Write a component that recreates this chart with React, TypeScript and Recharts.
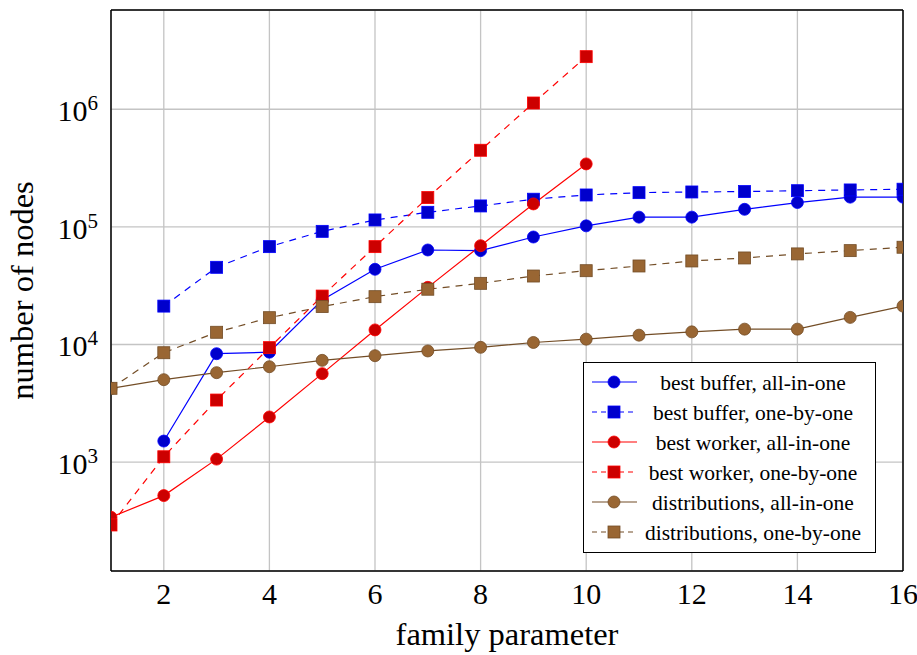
import React from 'react';
import { LineChart, Line, XAxis, YAxis, CartesianGrid, Legend } from 'recharts';

const FAMILY_PARAMS = [1, 2, 3, 4, 5, 6, 7, 8, 9, 10, 11, 12, 13, 14, 15, 16];
const X_TICKS = [2, 4, 6, 8, 10, 12, 14, 16];
const Y_TICKS = [1e3, 1e4, 1e5, 1e6];
const Y_TICK_EXPONENTS = ['3', '4', '5', '6'];
const Y_MINOR_TICKS = [
  200, 300, 400, 500, 600, 700, 800, 900,
  2000, 3000, 4000, 5000, 6000, 7000, 8000, 9000,
  20000, 30000, 40000, 50000, 60000, 70000, 80000, 90000,
  200000, 300000, 400000, 500000, 600000, 700000, 800000, 900000,
  2000000, 3000000, 4000000, 5000000, 6000000,
];
const Y_DOMAIN = [118.6, 6.98e6];

const bestBufferAllInOne = [null, 1510, 8350, 8600, 23900, 43600, 63600, 62800, 82000, 102000, 121000, 121000, 141000, 161000, 179000, 179000];
const bestBufferOneByOne = [null, 21200, 45300, 67900, 91600, 114500, 133000, 150600, 171800, 186700, 195400, 198000, 199600, 203000, 206000, 209000];
const bestWorkerAllInOne = [340, 519, 1060, 2420, 5650, 13300, 30600, 69200, 156700, 343000, null, null, null, null, null, null];
const bestWorkerOneByOne = [292, 1110, 3370, 9400, 25800, 67900, 177400, 448000, 1130000, 2800000, null, null, null, null, null, null];
const distributionsAllInOne = [4240, 5020, 5760, 6470, 7330, 8030, 8810, 9460, 10400, 11100, 12000, 12800, 13500, 13500, 17000, 21200];
const distributionsOneByOne = [4240, 8510, 12700, 16900, 21000, 25500, 29500, 33100, 38200, 42400, 46500, 51300, 54400, 58900, 62800, 67100];

const FONT = "'Liberation Serif', 'DejaVu Serif', serif";

type Series = {
  name: string;
  values: (number | null)[];
  stroke: string;
  fill: string;
  shape: 'circle' | 'square';
  dashed: boolean;
};

const SERIES: Series[] = [
  { name: 'best buffer, all-in-one', values: bestBufferAllInOne, stroke: '#0000ff', fill: '#0000cc', shape: 'circle', dashed: false },
  { name: 'best buffer, one-by-one', values: bestBufferOneByOne, stroke: '#0000ff', fill: '#0000cc', shape: 'square', dashed: true },
  { name: 'best worker, all-in-one', values: bestWorkerAllInOne, stroke: '#ff0000', fill: '#cc0000', shape: 'circle', dashed: false },
  { name: 'best worker, one-by-one', values: bestWorkerOneByOne, stroke: '#ff0000', fill: '#cc0000', shape: 'square', dashed: true },
  { name: 'distributions, all-in-one', values: distributionsAllInOne, stroke: '#734d26', fill: '#996633', shape: 'circle', dashed: false },
  { name: 'distributions, one-by-one', values: distributionsOneByOne, stroke: '#734d26', fill: '#996633', shape: 'square', dashed: true },
];

const toData = (values: (number | null)[]) =>
  FAMILY_PARAMS.map((x, i) => ({ x, y: values[i] })).filter((d) => d.y != null);

const Marker = ({ cx, cy, shape, fill, stroke, size }: any) =>
  shape === 'circle' ? (
    <circle cx={cx} cy={cy} r={size / 2} fill={fill} stroke={stroke} strokeWidth={0.8} />
  ) : (
    <rect x={cx - size / 2} y={cy - size / 2} width={size} height={size} fill={fill} stroke={stroke} strokeWidth={0.8} />
  );

const makeDot = (s: Series) => (props: any) => {
  const { cx, cy, index } = props;
  if (cx == null || cy == null) return <g key={`e-${index}`} />;
  return (
    <g key={`d-${index}`}>
      <Marker cx={cx} cy={cy} shape={s.shape} fill={s.fill} stroke={s.stroke} size={12} />
    </g>
  );
};

const XTick = (props: any) => {
  const { x, y, payload } = props;
  return (
    <text x={x} y={y + 25} textAnchor="middle" fontSize={30} fontFamily={FONT} style={{ fontFamily: FONT }} fill="#000">
      {payload.value}
    </text>
  );
};

const YTick = (props: any) => {
  const { x, y, payload } = props;
  const idx = Y_TICKS.indexOf(payload.value);
  return (
    <text x={x - 5} y={y + 12} textAnchor="end" fontFamily={FONT} style={{ fontFamily: FONT }} fill="#000">
      <tspan fontSize={30}>10</tspan>
      <tspan fontSize={21} dy={-11}>{Y_TICK_EXPONENTS[idx]}</tspan>
    </text>
  );
};

const XTitle = (props: any) => {
  const vb = props.viewBox || { x: 111, y: 571, width: 792, height: 84 };
  return (
    <text x={vb.x + vb.width / 2} y={vb.y + 74} textAnchor="middle" fontSize={32.5} fontFamily={FONT} style={{ fontFamily: FONT }} fill="#000">
      family parameter
    </text>
  );
};

const YTitle = (props: any) => {
  const vb = props.viewBox || { x: 0, y: 10, width: 111, height: 561 };
  const cx = vb.x + 33;
  const cy = vb.y + vb.height / 2;
  return (
    <text x={cx} y={cy} textAnchor="middle" fontSize={32.5} fontFamily={FONT} style={{ fontFamily: FONT }} fill="#000" transform={`rotate(-90, ${cx}, ${cy})`}>
      number of nodes
    </text>
  );
};

const LegendBox = () => (
  <div
    style={{
      position: 'relative',
      width: 293,
      height: 191,
      boxSizing: 'border-box',
      border: '1.3px solid #000',
      background: '#fff',
      fontFamily: 'Liberation Serif, serif',
    }}
  >
    <svg width={293} height={191} style={{ position: 'absolute', left: -1, top: -1, display: 'block' }}>
      {SERIES.map((s, i) => {
        const cy = 20 + 30 * i;
        return (
          <g key={s.name}>
            <line x1={9} x2={54} y1={cy} y2={cy} stroke={s.stroke} strokeWidth={1.2} strokeDasharray={s.dashed ? '5 4' : undefined} />
            <Marker cx={31} cy={cy} shape={s.shape} fill={s.fill} stroke={s.stroke} size={12} />
          </g>
        );
      })}
    </svg>
    {SERIES.map((s, i) => (
      <div
        key={s.name}
        style={{
          position: 'absolute',
          left: 52,
          width: 234,
          top: 5 + 30 * i,
          height: 30,
          lineHeight: '30px',
          textAlign: 'center',
          fontSize: 21.5,
          color: '#000',
          whiteSpace: 'nowrap',
          fontFamily: 'Liberation Serif, serif',
        }}
      >
        {s.name}
      </div>
    ))}
  </div>
);

export default function App() {
  return (
    <div style={{ position: 'absolute', left: 0, top: 0, width: 917, height: 655, background: '#fff', fontFamily: FONT }}>
      <LineChart width={917} height={655} margin={{ top: 10, right: 14, bottom: 0, left: 0 }} style={{ fontFamily: FONT }}>
        <CartesianGrid stroke="#c4c4c4" strokeWidth={1.3} />
        <XAxis
          type="number"
          dataKey="x"
          domain={[1, 16]}
          allowDataOverflow
          ticks={X_TICKS}
          interval={0}
          height={84}
          tickLine={false}
          axisLine={{ stroke: '#000', strokeWidth: 1.5 }}
          tick={<XTick />}
          label={(p: any) => <XTitle {...p} />}
        />
        <XAxis
          xAxisId="top"
          orientation="top"
          mirror
          type="number"
          domain={[1, 16]}
          allowDataOverflow
          ticks={X_TICKS}
          interval={0}
          tick={false}
          tickSize={6}
          tickLine={{ stroke: '#666' }}
          axisLine={{ stroke: '#000', strokeWidth: 1.5 }}
        />
        <XAxis
          xAxisId="bottomInner"
          orientation="bottom"
          mirror
          type="number"
          domain={[1, 16]}
          allowDataOverflow
          ticks={X_TICKS}
          interval={0}
          tick={false}
          tickSize={6}
          tickLine={{ stroke: '#666' }}
          axisLine={false}
        />
        <YAxis
          scale="log"
          type="number"
          domain={Y_DOMAIN}
          allowDataOverflow
          ticks={Y_TICKS}
          interval={0}
          width={111}
          tickLine={false}
          axisLine={{ stroke: '#000', strokeWidth: 1.5 }}
          tick={<YTick />}
          label={(p: any) => <YTitle {...p} />}
        />
        <YAxis
          yAxisId="minorL"
          orientation="left"
          mirror
          scale="log"
          type="number"
          domain={Y_DOMAIN}
          allowDataOverflow
          ticks={[...Y_MINOR_TICKS, ...Y_TICKS]}
          interval={0}
          tick={false}
          tickSize={6}
          tickLine={{ stroke: '#777' }}
          axisLine={false}
        />
        <YAxis
          yAxisId="minorR"
          orientation="right"
          mirror
          scale="log"
          type="number"
          domain={Y_DOMAIN}
          allowDataOverflow
          ticks={[...Y_MINOR_TICKS, ...Y_TICKS]}
          interval={0}
          tick={false}
          tickSize={6}
          tickLine={{ stroke: '#777' }}
          axisLine={{ stroke: '#000', strokeWidth: 1.5 }}
        />
        {SERIES.map((s) => (
          <Line
            key={s.name}
            name={s.name}
            data={toData(s.values)}
            dataKey="y"
            type="linear"
            stroke={s.stroke}
            strokeWidth={1.2}
            strokeDasharray={s.dashed ? '7 6' : undefined}
            dot={makeDot(s)}
            activeDot={false}
            isAnimationActive={false}
          />
        ))}
        <Legend
          layout="horizontal"
          verticalAlign="middle"
          align="center"
          content={() => <LegendBox />}
          wrapperStyle={{ left: 583, top: 362, width: 293, height: 191 }}
        />
      </LineChart>
    </div>
  );
}
